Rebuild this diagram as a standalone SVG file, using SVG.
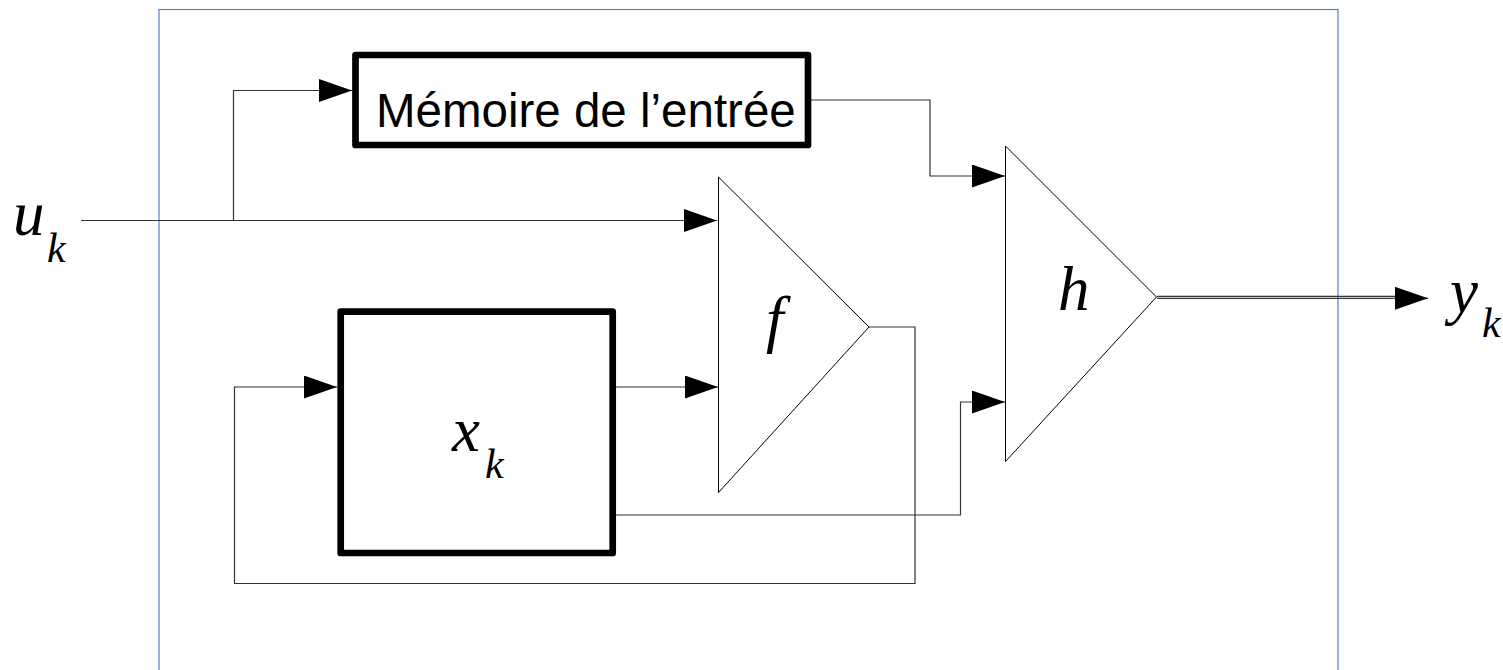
<svg xmlns="http://www.w3.org/2000/svg" width="1503" height="670" viewBox="0 0 1503 670">
<style>
.frame{fill:none;stroke:#4477c4;stroke-width:1.1}
.box{fill:#fff;stroke:#000;stroke-width:6.7;stroke-linejoin:round}
.tri{fill:#fff;stroke:#000;stroke-width:1}
.wire{fill:none;stroke:#333;stroke-width:1.2}
.lbl{font-family:"Liberation Sans",Arial,sans-serif;font-size:47.5px;fill:#000}
.math{font-family:"Liberation Serif","Times New Roman",serif;font-style:italic;fill:#000}
.big{font-size:63px}
.sub{font-size:42px}
</style>
<defs>
<marker id="ah" markerUnits="userSpaceOnUse" markerWidth="34" markerHeight="24" refX="33" refY="11.5" orient="auto">
<path d="M0,0 L33,11.5 L0,23 z" fill="#000"/>
</marker>
</defs>
<rect class="frame" x="159" y="9.5" width="1179" height="700"/>
<g id="connectors">
<path class="wire" d="M81,220.5 H717" marker-end="url(#ah)"/>
<path class="wire" d="M233.5,220.5 V90.5 H352" marker-end="url(#ah)"/>
<path class="wire" d="M811,100 H930 V176 H1005" marker-end="url(#ah)"/>
<path class="wire" d="M616,387 H718" marker-end="url(#ah)"/>
<path class="wire" d="M869,327 H915 V583.5 H234.5 V387 H337" marker-end="url(#ah)"/>
<path class="wire" d="M616,515 H960.5 V402 H1005" marker-end="url(#ah)"/>
<path class="wire" d="M1157,296.3 H1400"/>
<path class="wire" d="M1157,298.3 H1428" marker-end="url(#ah)"/>
</g>
<g id="memoire">
<rect class="box" x="355.5" y="55" width="452.5" height="90"/>
<text class="lbl" x="376" y="127">Mémoire de l’entrée</text>
</g>
<g id="state">
<rect class="box" x="340.7" y="311.7" width="272" height="241.3"/>
<text class="math big" x="452" y="451">x</text>
<text class="math sub" x="485" y="478">k</text>
</g>
<g id="f">
<polygon class="tri" points="718.5,177 869,327 718.5,492.5"/>
<text class="math big" x="766" y="340">f</text>
</g>
<g id="h">
<polygon class="tri" points="1005.5,146 1156.5,297 1005.5,461.5"/>
<text class="math big" x="1058" y="310">h</text>
</g>
<g id="input">
<text class="math big" x="13" y="235">u</text>
<text class="math sub" x="47" y="262">k</text>
</g>
<g id="output">
<text class="math big" x="1450" y="312">y</text>
<text class="math sub" x="1482" y="337">k</text>
</g>
</svg>
